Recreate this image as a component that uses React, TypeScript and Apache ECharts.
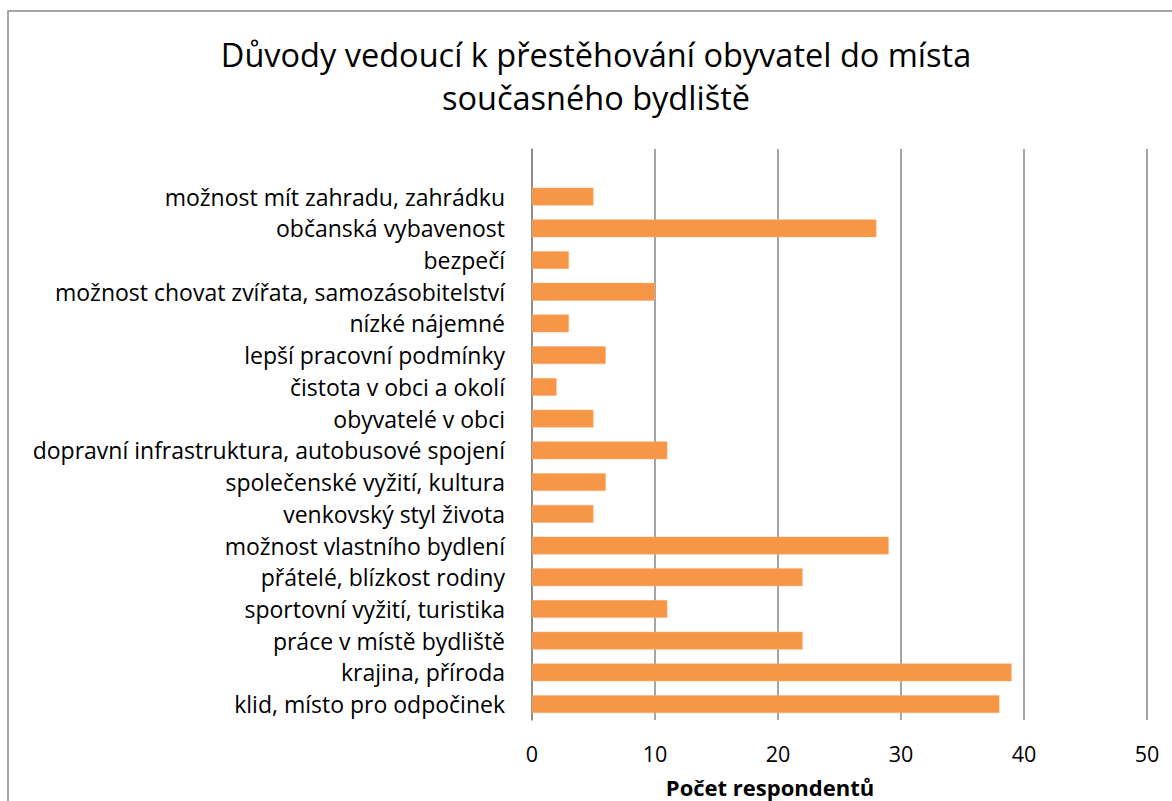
import React, { useEffect, useRef } from "react";
import * as echarts from "echarts";

const titleLines = ["Důvody vedoucí k přestěhování obyvatel do místa", "současného bydliště"];
const axisName = "Počet respondentů";
const categories = [
  "",
  "možnost mít zahradu, zahrádku",
  "občanská vybavenost",
  "bezpečí",
  "možnost chovat zvířata, samozásobitelství",
  "nízké nájemné",
  "lepší pracovní podmínky",
  "čistota v obci a okolí",
  "obyvatelé v obci",
  "dopravní infrastruktura, autobusové spojení",
  "společenské vyžití, kultura",
  "venkovský styl života",
  "možnost vlastního bydlení",
  "přátelé, blízkost rodiny",
  "sportovní vyžití, turistika",
  "práce v místě bydliště",
  "krajina, příroda",
  "klid, místo pro odpočinek",
];
const values = [null, 5, 28, 3, 10, 3, 6, 2, 5, 11, 6, 5, 29, 22, 11, 22, 39, 38];
const xMin = 0;
const xMax = 50;
const xStep = 10;

export default function App() {
  const ref = useRef<HTMLDivElement>(null);
  useEffect(() => {
    const chart = echarts.init(ref.current!, null, { renderer: "svg" });
    const font = "'Open Sans', sans-serif";
    chart.setOption({
      animation: false,
      backgroundColor: "#ffffff",
      title: {
        text: titleLines.join("\n"),
        left: 591,
        top: 28,
        textAlign: "center",
        textStyle: { fontFamily: font, fontSize: 32.5, fontWeight: "normal", color: "#000", lineHeight: 43 },
      },
      grid: { left: 532, right: 25, top: 149, bottom: 81, containLabel: false },
      xAxis: {
        type: "value",
        min: xMin,
        max: xMax,
        interval: xStep,
        axisLine: { show: false },
        axisTick: { show: false },
        splitLine: { show: true, lineStyle: { color: "#878787", width: 1.5 } },
        axisLabel: { fontFamily: font, fontSize: 21.5, color: "#000", margin: 22 },
      },
      yAxis: {
        type: "category",
        inverse: true,
        data: categories,
        axisLine: { show: true, lineStyle: { color: "#878787", width: 1.5 } },
        axisTick: { show: false },
        axisLabel: { fontFamily: font, fontSize: 23, color: "#000", margin: 27 },
      },
      series: [
        {
          type: "bar",
          data: values,
          barCategoryGap: "44%",
          itemStyle: { color: "#F79646", borderColor: "#F9B07A", borderWidth: 0.5 },
        },
      ],
      graphic: [
        {
          type: "rect",
          shape: { x: 8, y: 11, width: 1300, height: 1000 },
          style: { fill: "none", stroke: "#898989", lineWidth: 1.5 },
          silent: true,
        },
        {
          type: "text",
          x: 770,
          y: 787,
          style: {
            text: axisName,
            fontFamily: font,
            fontSize: 22,
            fontWeight: "bold",
            fill: "#000",
            align: "center",
            verticalAlign: "middle",
          },
        },
      ],
    });
    return () => chart.dispose();
  }, []);
  return (
    <div
      ref={ref}
      style={{ position: "absolute", left: 0, top: 0, width: 1172, height: 801, background: "#fff" }}
    />
  );
}
